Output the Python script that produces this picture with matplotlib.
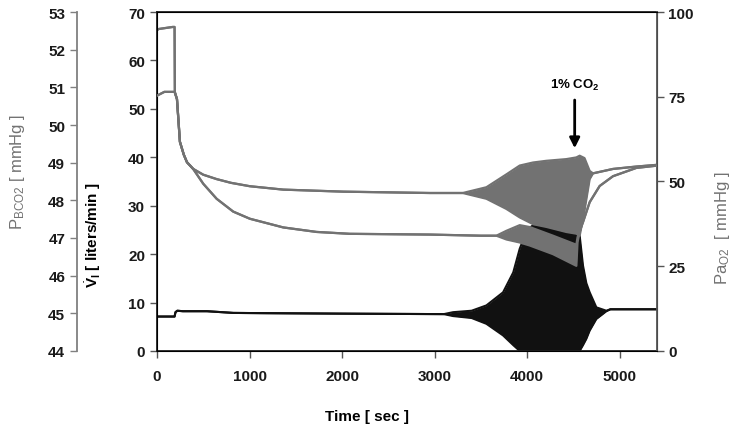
import matplotlib
matplotlib.use('Agg')
import matplotlib.pyplot as plt

# data (time in s)
# Pa_O2 [mmHg] : time, lower envelope, upper envelope (band = oscillation)
t_o2 = [0, 20, 170, 190, 193, 216, 248, 290, 324, 392, 500, 645, 800, 1004, 1364, 2012,
        2948, 3305, 3560, 3776, 3920, 4064, 4208, 4424, 4532, 4568, 4620, 4676, 4712,
        4928, 5180, 5400]
o2_lo = [94.7, 95.0, 95.6, 95.6, 76.4, 74.3, 61.7, 57.9, 55.7, 53.7, 52.0, 50.7, 49.6, 48.6,
         47.6, 47.0, 46.6, 46.6, 44.9, 41.9, 39.4, 37.4, 36.6, 35.1, 34.6, 34.0, 41.4, 50.7,
         52.4, 53.7, 54.4, 54.9]
o2_hi = [94.7, 95.0, 95.6, 95.6, 76.4, 74.3, 61.7, 57.9, 55.7, 53.7, 52.0, 50.7, 49.6, 48.6,
         47.6, 47.0, 46.6, 46.6, 48.3, 52.1, 54.7, 55.6, 56.1, 56.6, 57.1, 57.6, 56.9, 53.1,
         52.4, 53.7, 54.4, 54.9]

# P_BCO2 [mmHg]
t_co2 = [0, 80, 190, 216, 248, 290, 324, 392, 500, 645, 824, 1004, 1364, 1724, 2084, 2948,
         3500, 3668, 3776, 3920, 4028, 4280, 4532, 4545, 4570, 4604, 4676, 4784, 4928,
         5180, 5400]
co2_lo = [50.78, 50.88, 50.88, 50.69, 49.55, 49.21, 49.01, 48.83, 48.44, 48.04, 47.70, 47.51,
          47.28, 47.16, 47.11, 47.09, 47.06, 47.06, 46.96, 46.88, 46.80, 46.57, 46.26, 46.89,
          47.19, 47.42, 47.95, 48.38, 48.64, 48.86, 48.92]
co2_hi = [50.78, 50.88, 50.88, 50.69, 49.55, 49.21, 49.01, 48.83, 48.44, 48.04, 47.70, 47.51,
          47.28, 47.16, 47.11, 47.09, 47.06, 47.06, 47.19, 47.34, 47.29, 47.06, 46.82, 47.02,
          47.19, 47.42, 47.95, 48.38, 48.64, 48.86, 48.92]

# V_I [liters/min]
t_vi = [0, 190, 200, 220, 280, 540, 825, 1150, 2000, 3100, 3200, 3400, 3560, 3740, 3850,
        3920, 4000, 4100, 4300, 4500, 4568, 4604, 4640, 4676, 4748, 4856, 4900, 5400]
vi_lo = [7.1, 7.1, 8.0, 8.3, 8.2, 8.2, 7.85, 7.8, 7.7, 7.6, 7.2, 6.8, 5.6, 3.2, 1.2,
         0, 0, 0, 0, 0, 0, 1.2, 2.5, 4.2, 6.6, 8.2, 8.6, 8.6]
vi_hi = [7.1, 7.1, 8.0, 8.3, 8.2, 8.2, 7.85, 7.8, 7.7, 7.6, 8.0, 8.3, 9.4, 12.1, 16.2,
         21.1, 25.0, 26.5, 26.0, 25.0, 23.8, 17.6, 14.0, 12.1, 9.0, 8.3, 8.6, 8.6]

plt.rcParams['font.family'] = ['Liberation Sans', 'DejaVu Sans']
plt.rcParams['mathtext.fontset'] = 'custom'
plt.rcParams['mathtext.rm'] = 'Liberation Sans'
plt.rcParams['mathtext.bf'] = 'Liberation Sans:bold'
plt.rcParams['mathtext.it'] = 'Liberation Sans:italic'

gray = '#727272'
fig = plt.figure(figsize=(7.37, 4.35), dpi=100)
ax = fig.add_axes([0.213, 0.191, 0.678, 0.779])
ax2 = ax.twinx()   # Pa_O2, right
ax3 = ax.twinx()   # P_BCO2, outer left
ax3.spines['left'].set_position(('axes', -0.16))
ax3.spines['left'].set_visible(True)
ax3.yaxis.set_ticks_position('left')
ax3.yaxis.set_label_position('left')
for s in ['right', 'top', 'bottom']:
    ax3.spines[s].set_visible(False)

# V_I (black) drawn first, gray bands on top
ax.fill_between(t_vi, vi_lo, vi_hi, color='#111111', lw=0)
ax.plot(t_vi, vi_lo, color='#111111', lw=1.5)
ax.plot(t_vi, vi_hi, color='#111111', lw=1.5)

ax3.fill_between(t_co2, co2_lo, co2_hi, color=gray, lw=0)
ax3.plot(t_co2, co2_lo, color=gray, lw=1.6)
ax3.plot(t_co2, co2_hi, color=gray, lw=1.6)

ax2.fill_between(t_o2, o2_lo, o2_hi, color=gray, lw=0)
ax2.plot(t_o2, o2_lo, color=gray, lw=1.6)
ax2.plot(t_o2, o2_hi, color=gray, lw=1.6)

ax.set_xlim(0, 5400)
ax.set_ylim(0, 70)
ax2.set_ylim(0, 100)
ax3.set_ylim(44, 53)
ax.set_xticks([0, 1000, 2000, 3000, 4000, 5000])
ax.set_yticks(range(0, 71, 10))
ax2.set_yticks([0, 25, 50, 75, 100])
ax3.set_yticks(range(44, 54))

for a in (ax, ax2, ax3):
    a.tick_params(direction='out', length=5, width=1, labelsize=11)
    for lab in a.get_xticklabels() + a.get_yticklabels():
        lab.set_fontweight('bold')
        lab.set_color('#1a1a1a')
ax.tick_params(axis='y', colors='#555555', labelcolor='#1a1a1a')
ax2.tick_params(axis='y', colors='#555555', labelcolor='#1a1a1a')
ax3.tick_params(axis='y', colors='#808080', labelcolor='#1a1a1a')
ax.tick_params(axis='x', colors='#555555', labelcolor='#1a1a1a', pad=8)

for s in ['left', 'bottom', 'top']:
    ax.spines[s].set_color('#222222')
    ax.spines[s].set_linewidth(1.3)
ax2.spines['right'].set_color('#555555')
ax2.spines['right'].set_linewidth(1.3)
ax3.spines['left'].set_color('#808080')
ax3.spines['left'].set_linewidth(1.3)

ax.set_xlabel('Time [ sec ]', fontsize=11, fontweight='bold')
ax.xaxis.set_label_coords(0.42, -0.17)
ax.set_ylabel(r'$\dot{\mathbf{V}}_{\mathbf{I}}$ [ liters/min ]', fontsize=11, fontweight='bold')
ax.yaxis.set_label_coords(-0.108, 0.345)
ax2.set_ylabel(r'Pa$_{\mathrm{O2}}$  [ mmHg ]', fontsize=12, color=gray, rotation=90)
ax2.yaxis.set_label_coords(1.112, 0.365)
ax3.set_ylabel(r'P$_{\mathrm{BCO2}}$ [ mmHg ]', fontsize=12, color=gray)
ax3.yaxis.set_label_coords(-0.26, 0.53)

ax.annotate('', xy=(4514, 41.3), xytext=(4514, 52.4),
            arrowprops=dict(arrowstyle='-|>', color='black', lw=2, mutation_scale=15))
ax.text(4514, 55.0, r'1% CO$_{\mathbf{2}}$', ha='center', va='center',
        fontsize=9.5, fontweight='bold')

fig.savefig('out.png', dpi=100)
